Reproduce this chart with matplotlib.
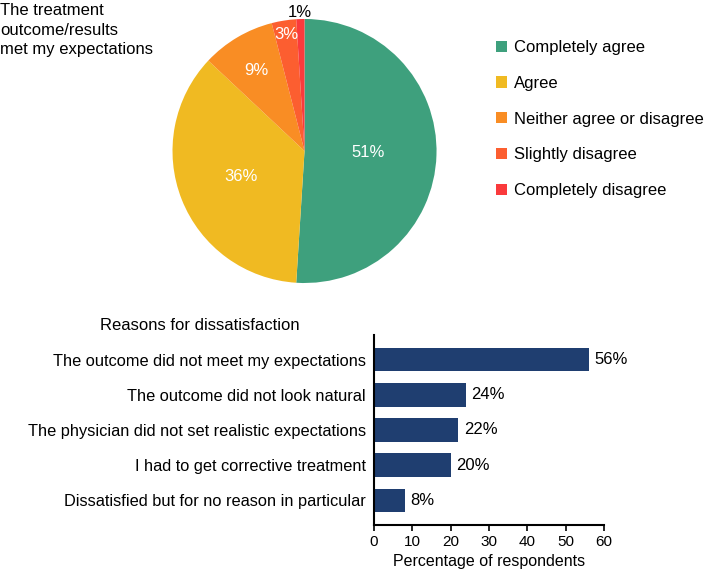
import numpy as np
import matplotlib.pyplot as plt

plt.rcParams["font.family"] = ["Liberation Sans", "DejaVu Sans"]

# pie data
pie_labels = ["Completely agree", "Agree", "Neither agree or disagree",
              "Slightly disagree", "Completely disagree"]
pie_values = [51, 36, 9, 3, 1]
pie_colors = ["#3ea07d", "#f0ba22", "#f98d24", "#fc5e30", "#fa3a3c"]

# bar data
reasons = ["The outcome did not meet my expectations",
           "The outcome did not look natural",
           "The physician did not set realistic expectations",
           "I had to get corrective treatment",
           "Dissatisfied but for no reason in particular"]
reason_pct = [56, 24, 22, 20, 8]

fig = plt.figure(figsize=(7.09, 5.70), dpi=100)

# ---- pie ----
ax1 = fig.add_axes([0.4295 - 0.1862, 0.7351 - 0.2316, 0.3724, 0.4632])
wedges, _ = ax1.pie(pie_values, colors=pie_colors, startangle=90,
                    counterclock=False, wedgeprops=dict(linewidth=0))
ax1.set_xlim(-1, 1)
ax1.set_ylim(-1, 1)
ax1.set_aspect("equal")

label_dist = [0.48, 0.52, 0.71, 0.89, 1.05]
for w, v, d in zip(wedges, pie_values, label_dist):
    ang = np.deg2rad((w.theta1 + w.theta2) / 2)
    col = "black" if d > 1 else "white"
    ax1.text(d * np.cos(ang), d * np.sin(ang), f"{v}%", color=col,
             ha="center", va="center", fontsize=12)

fig.legend(wedges, pie_labels, loc="upper left",
           bbox_to_anchor=(496 / 709, 1 - 40 / 570), frameon=False,
           fontsize=12, handlelength=0.65, handleheight=0.65,
           handletextpad=0.4, labelspacing=1.25, borderpad=0,
           borderaxespad=0)

fig.text(0.0, 1 - 3 / 570, "The treatment\noutcome/results\nmet my expectations",
         ha="left", va="top", fontsize=12, linespacing=1.38)

# ---- bars ----
ax2 = fig.add_axes([374 / 709, 45 / 570, 230 / 709, 190 / 570])
ypos = np.arange(len(reasons))
bars = ax2.barh(ypos, reason_pct, height=0.67, color="#1f3e70")
ax2.bar_label(bars, labels=[f"{p}%" for p in reason_pct], padding=4,
              fontsize=12)
ax2.set_yticks(ypos)
ax2.set_yticklabels(reasons, fontsize=11.8)
ax2.tick_params(axis="y", length=0, pad=6)
ax2.set_ylim(4.7, -0.7)
ax2.set_xlim(0, 60)
ax2.set_xticks(range(0, 61, 10))
ax2.tick_params(axis="x", labelsize=11, length=4.5, width=1.2, pad=3)
ax2.set_xlabel("Percentage of respondents", fontsize=11.5)
ax2.xaxis.set_label_coords(0.5, -0.155)
for s in ["top", "right"]:
    ax2.spines[s].set_visible(False)
for s in ["left", "bottom"]:
    ax2.spines[s].set_linewidth(1.5)

fig.text(100 / 709, 1 - 326 / 570, "Reasons for dissatisfaction",
         ha="left", va="center", fontsize=12)

fig.savefig("out.png", dpi=100)
